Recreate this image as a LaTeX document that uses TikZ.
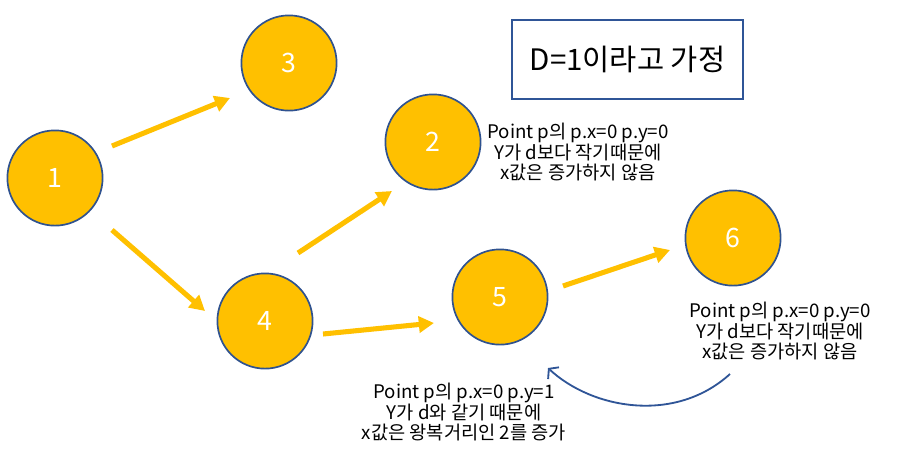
\documentclass[tikz,border=0pt]{standalone}
\usepackage{fontspec}
\setmainfont{Noto Sans CJK KR}
\usepackage{xcolor}
\usepackage{tikz}
\usetikzlibrary{arrows.meta,positioning}

\definecolor{gold}{HTML}{FFC000}
\definecolor{rim}{HTML}{2F528F}
\definecolor{navy}{HTML}{2F5597}

\begin{document}
\begin{tikzpicture}[
    x=0.025cm, y=-0.025cm,
    state/.style   = {circle, draw=rim, line width=1.2pt, fill=gold,
                      minimum size=2.38cm, inner sep=0pt, text=white,
                      font=\fontsize{19}{21}\selectfont},
    note/.style    = {align=center, inner sep=0pt,
                      font=\fontsize{13.3}{14}\selectfont},
    headbox/.style = {draw=navy, line width=1.4pt, minimum width=5.775cm,
                      minimum height=1.975cm,
                      font=\fontsize{21}{23}\selectfont},
    arr/.style     = {-{Triangle[length=3.8mm, width=4mm]}, gold,
                      line width=3.6pt},
    back/.style    = {-{Straight Barb[length=1.6mm, width=4mm]}, navy,
                      line width=1.3pt},
]
\useasboundingbox (0,0) rectangle (901,456);

% ============ states ============
\node[state] (n1) at (55,178) {1};
\node[state] (n3) at (289,63) {3};
\node[state] (n2) at (433,142) {2};
\node[state] (n4) at (265,321) {4};
\node[state] (n5) at (500,297) {5};
\node[state] (n6) at (733,238) {6};

% ============ assumption box ============
\node[headbox] (head) at (627.5,59.5) {D=1이라고 가정};

% ============ notes ============
\node[note] (t2) at (578,152)
    {Point p의 p.x=0 p.y=0\\Y가 d보다 작기때문에\\x값은 증가하지 않음};
\node[note] (t6) at (780,331)
    {Point p의 p.x=0 p.y=0\\Y가 d보다 작기때문에\\x값은 증가하지 않음};
\node[note] (t5) at (464,412)
    {Point p의 p.x=0 p.y=1\\Y가 d와 같기 때문에\\x값은 왕복거리인 2를 증가};

% ============ moves ============
\draw[arr] ([shift={(57,-32)}]n1.center) -- ([shift={(-59,35)}]n3.center);
\draw[arr] ([shift={(57,52)}]n1.center)  -- ([shift={(-60,-10)}]n4.center);
\draw[arr] ([shift={(33,-68)}]n4.center) -- ([shift={(-41,49)}]n2.center);
\draw[arr] ([shift={(58,13)}]n4.center)  -- ([shift={(-66,26)}]n5.center);
\draw[arr] ([shift={(63,-11)}]n5.center) -- ([shift={(-63,12)}]n6.center);

% return path
\draw[back] ([shift={(-50,43)}]t6.center)
    .. controls ++(-55,50) and ([shift={(92,112)}]n5.center) ..
    ([shift={(48,71)}]n5.center);

\end{tikzpicture}
\end{document}
